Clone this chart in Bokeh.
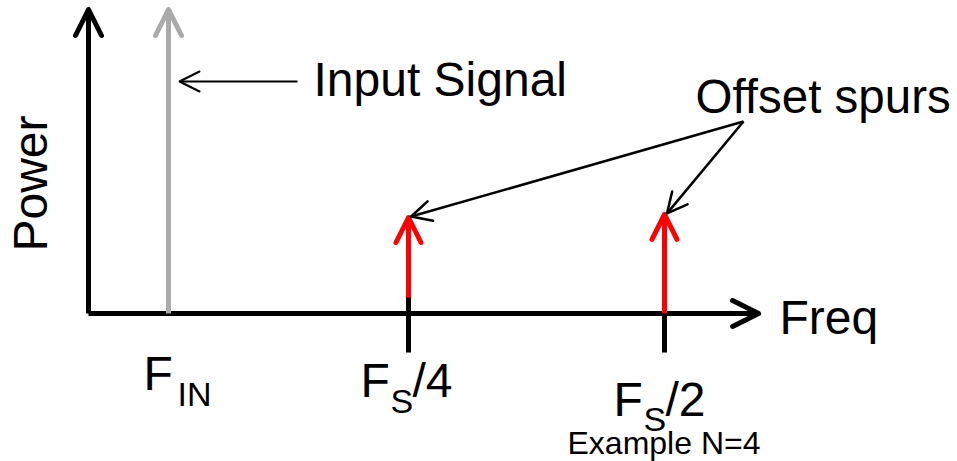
import math
from bokeh.plotting import figure
from bokeh.models import Range1d, Arrow, OpenHead, Label, ColumnDataSource
from bokeh.embed import file_html
from bokeh.resources import INLINE

# ---------------- data (schematic units) ----------------
signal_labels = ["IN"]
signal_freq = [1.25]
signal_power = [9.5]

spur_labels = ["4", "2"]          # F_S/4, F_S/2
spur_freq = [5.0, 9.0]
spur_power = [3.0, 3.1]
tick_top = [0.5, 0.0]             # little tick above the axis (F_S/4 only)

freq_axis_end = 10.47
power_axis_end = 9.5

# ---------------- layout ----------------
W, H = 957, 461
OX, OY = 88, 313       # origin in page pixels
SX, SY = 64.0, 32.0    # pixels per unit
BASE_FIX = 0.365       # baseline correction (fraction of font size)


def dx(px):
    return (px - OX) / SX


def dy(py):
    return (OY - py) / SY


p = figure(width=W, height=H,
           x_range=Range1d(dx(0), dx(W)),
           y_range=Range1d(dy(H), dy(0)),
           x_axis_type=None, y_axis_type=None,
           output_backend="svg", toolbar_location=None, min_border=0)
p.grid.visible = False
p.outline_line_color = None
p.background_fill_color = "white"
p.border_fill_color = "white"

FONT = "Liberation Sans"
LW = 5


def head(color, size, lw):
    return OpenHead(size=size, line_color=color, line_width=lw,
                    line_cap="round", line_join="round")


# axes with arrow heads
p.add_layout(Arrow(x_start=0, y_start=0, x_end=0, y_end=power_axis_end,
                   line_width=LW, line_color="black", end=head("black", 26, LW)))
p.add_layout(Arrow(x_start=0, y_start=0, x_end=freq_axis_end, y_end=0,
                   line_width=LW, line_color="black", end=head("black", 26, LW)))

# input signal (gray)
sig_src = ColumnDataSource(dict(x=signal_freq, y0=[0] * len(signal_freq), y1=signal_power))
p.add_layout(Arrow(source=sig_src, x_start="x", y_start="y0", x_end="x", y_end="y1",
                   line_width=LW, line_color="#aaaaaa", end=head("#aaaaaa", 26, LW)))

# offset spurs (red)
spur_src = ColumnDataSource(dict(x=spur_freq, y0=[0] * len(spur_freq), y1=spur_power,
                                 tt=tick_top, tb=[-1.22] * len(spur_freq)))
p.add_layout(Arrow(source=spur_src, x_start="x", y_start="y0", x_end="x", y_end="y1",
                   line_width=LW, line_color="#ff0000", end=head("#ff0000", 25, LW)))

# tick marks under spurs
p.add_layout(Arrow(source=spur_src, x_start="x", y_start="tt", x_end="x", y_end="tb",
                   line_width=LW, line_color="black", end=None))

# pointer: Input Signal
p.add_layout(Arrow(x_start=dx(297), y_start=dy(81), x_end=signal_freq[0] + dx(178) - dx(167),
                   y_end=dy(81), line_width=2, line_color="black", end=head("black", 20, 2)))

# pointers: Offset spurs
apex_x, apex_y = dx(743), dy(121)
for f, pw in zip(spur_freq, spur_power):
    p.add_layout(Arrow(x_start=apex_x, y_start=apex_y, x_end=f + 0.04, y_end=pw + 0.03,
                       line_width=2.5, line_color="black", end=head("black", 20, 2.5)))


def lab(text, px, py, size, angle=0.0):
    shift = BASE_FIX * size
    if angle:
        px = px - shift
    else:
        py = py - shift
    p.add_layout(Label(x=dx(px), y=dy(py), text=text, text_font=FONT,
                       text_font_size=f"{size}px", text_color="black",
                       text_align="left", text_baseline="alphabetic", angle=angle))


BIG = 48
SUB = 34
lab("Input Signal", 313, 97, BIG)
lab("Offset spurs", 695, 113, 47.5)
lab("Power", 48, 251, BIG, angle=math.pi / 2)
lab("Freq", 779, 335, BIG)

# frequency labels
lab("F", 143, 391, BIG)
lab(signal_labels[0], 177, 406, SUB)
lab("F", 360, 398, BIG)
lab("S", 390, 413, SUB)
lab("/" + spur_labels[0], 412, 398, BIG)
lab("F", 613, 417, BIG)
lab("S", 643, 431, SUB)
lab("/" + spur_labels[1], 665, 417, BIG)

lab("Example N=4", 567, 454, 32)

open("out.html", "w").write(file_html(p, INLINE))
